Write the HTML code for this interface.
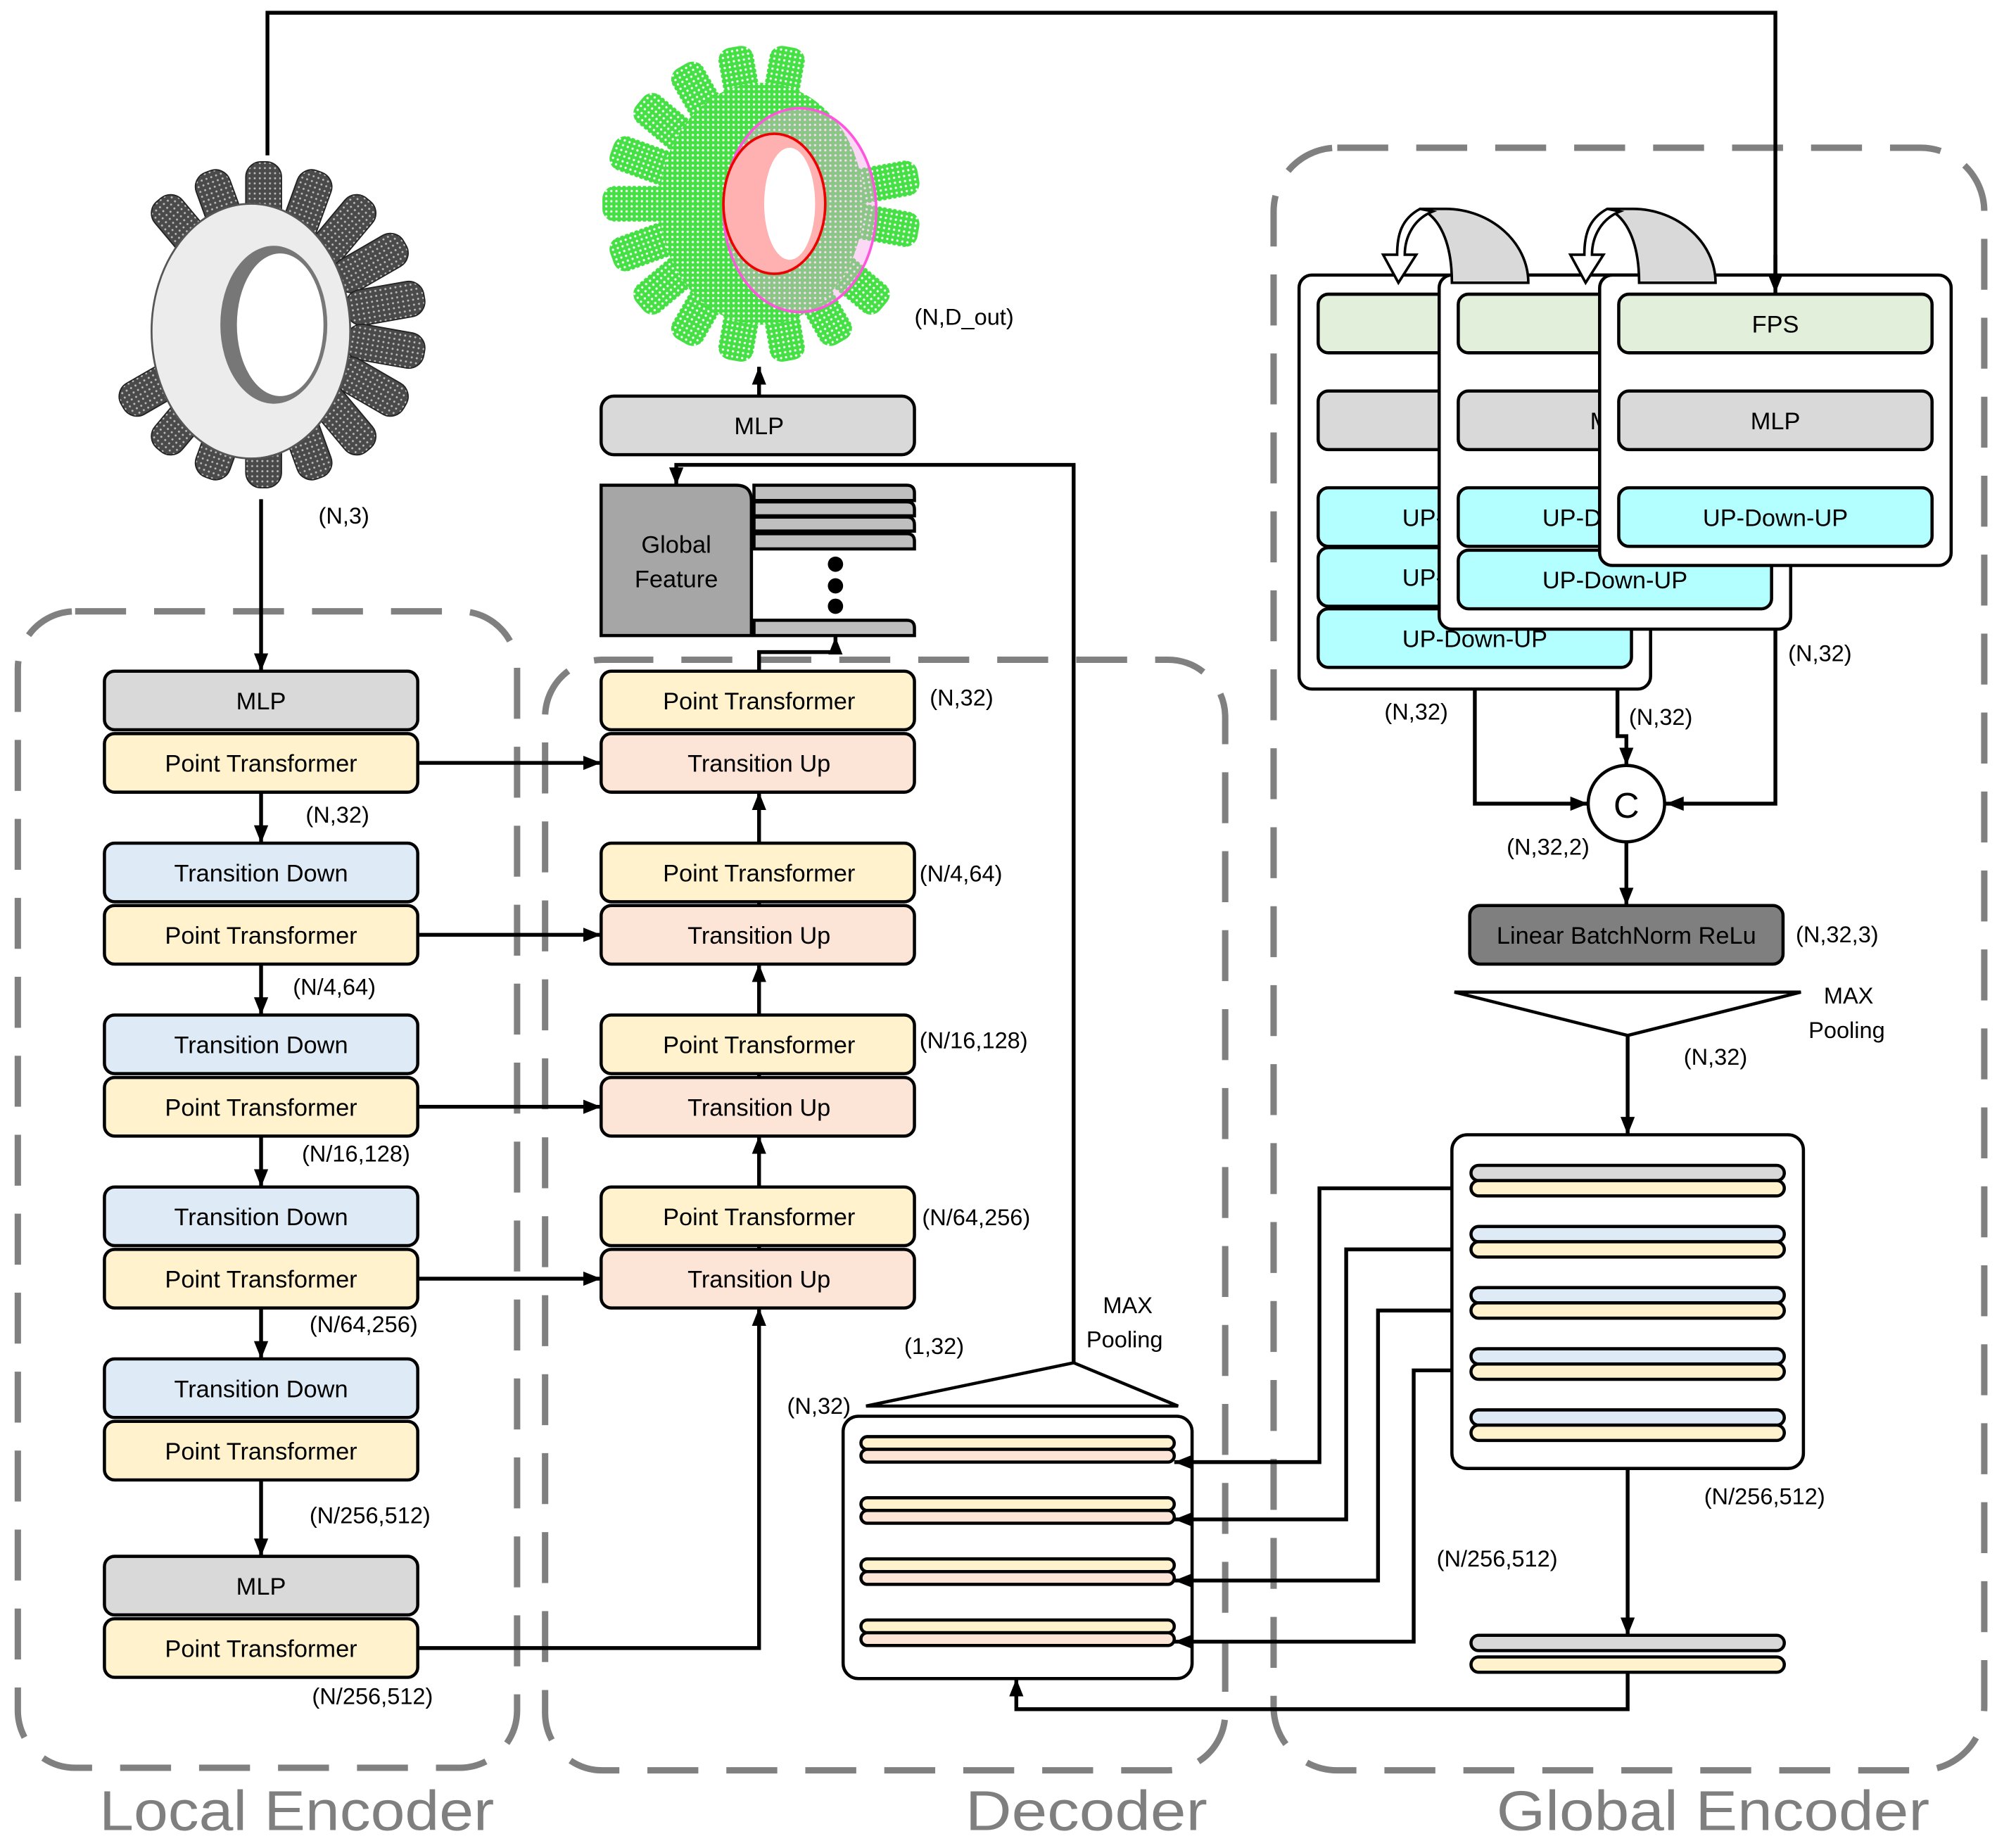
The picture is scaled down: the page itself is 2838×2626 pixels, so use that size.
<!DOCTYPE html>
<html><head><meta charset="utf-8">
<style>
html,body{margin:0;padding:0;background:#fff;}
svg{display:block;}
text{font-family:"Liberation Sans",sans-serif;}
</style></head>
<body>
<svg width="2838" height="2626" viewBox="0 0 1568 1451" preserveAspectRatio="none" xmlns="http://www.w3.org/2000/svg">
<defs>
<marker id="a" viewBox="0 0 10 10" refX="10" refY="5" markerWidth="14" markerHeight="14" orient="auto" markerUnits="userSpaceOnUse"><path d="M0,1 L10,5 L0,9 z" fill="#000"/></marker>
<pattern id="dots" width="4" height="4" patternUnits="userSpaceOnUse"><rect width="4" height="4" fill="#4a4a4a"/><circle cx="1" cy="1" r="0.8" fill="#bbb"/></pattern>
<pattern id="gdots" width="4" height="4" patternUnits="userSpaceOnUse"><rect width="4" height="4" fill="#44e044"/><circle cx="2" cy="2" r="0.9" fill="#fff"/></pattern>
</defs>

<g fill="none" stroke="#808080" stroke-width="5" stroke-dasharray="40 22">
<rect x="14" y="480" width="392" height="908" rx="45"/>
<rect x="428" y="518" width="534" height="872" rx="45"/>
<rect x="1000" y="116" width="558" height="1274" rx="50"/>
</g>
<g font-size="44" fill="#7f7f7f">
<text x="78" y="1437" textLength="310" lengthAdjust="spacingAndGlyphs">Local Encoder</text>
<text x="758" y="1437" textLength="190" lengthAdjust="spacingAndGlyphs">Decoder</text>
<text x="1175" y="1437" textLength="340" lengthAdjust="spacingAndGlyphs">Global Encoder</text>
</g>

<polyline points="210,122 210,10 1394,10 1394,230" fill="none" stroke="#000" stroke-width="3" marker-end="url(#a)"/>

<!-- gear point cloud -->
<g transform="translate(207,255)">
<g fill="url(#dots)" stroke="#222" stroke-width="1">
<rect x="-14" y="-128" width="28" height="62" rx="12" transform="rotate(0)"/>
<rect x="-14" y="-128" width="28" height="62" rx="12" transform="rotate(20)"/>
<rect x="-14" y="-128" width="28" height="62" rx="12" transform="rotate(40)"/>
<rect x="-14" y="-128" width="28" height="62" rx="12" transform="rotate(60)"/>
<rect x="-14" y="-128" width="28" height="62" rx="12" transform="rotate(80)"/>
<rect x="-14" y="-128" width="28" height="62" rx="12" transform="rotate(100)"/>
<rect x="-14" y="-128" width="28" height="62" rx="12" transform="rotate(120)"/>
<rect x="-14" y="-128" width="28" height="62" rx="12" transform="rotate(140)"/>
<rect x="-14" y="-128" width="28" height="62" rx="12" transform="rotate(160)"/>
<rect x="-14" y="-128" width="28" height="62" rx="12" transform="rotate(180)"/>
<rect x="-14" y="-128" width="28" height="62" rx="12" transform="rotate(200)"/>
<rect x="-14" y="-128" width="28" height="62" rx="12" transform="rotate(220)"/>
<rect x="-14" y="-128" width="28" height="62" rx="12" transform="rotate(240)"/>
<rect x="-14" y="-128" width="28" height="62" rx="12" transform="rotate(320)"/>
<rect x="-14" y="-128" width="28" height="62" rx="12" transform="rotate(340)"/>
</g>
<ellipse cx="-10" cy="5" rx="78" ry="100" fill="#ececec" stroke="#555" stroke-width="1.5"/>
<ellipse cx="8" cy="0" rx="42" ry="62" fill="#777"/>
<ellipse cx="13" cy="0" rx="34" ry="56" fill="#fff"/>
</g>

<!-- output point cloud -->
<g transform="translate(598,160)">
<g fill="url(#gdots)">
<rect x="-14" y="-125" width="28" height="70" rx="10" transform="rotate(-30)"/>
<rect x="-14" y="-125" width="28" height="70" rx="10" transform="rotate(-50)"/>
<rect x="-14" y="-125" width="28" height="70" rx="10" transform="rotate(-70)"/>
<rect x="-14" y="-125" width="28" height="70" rx="10" transform="rotate(-90)"/>
<rect x="-14" y="-125" width="28" height="70" rx="10" transform="rotate(-110)"/>
<rect x="-14" y="-125" width="28" height="70" rx="10" transform="rotate(-130)"/>
<rect x="-14" y="-125" width="28" height="70" rx="10" transform="rotate(-150)"/>
<rect x="-14" y="-125" width="28" height="70" rx="10" transform="rotate(-170)"/>
<rect x="-14" y="-125" width="28" height="70" rx="10" transform="rotate(170)"/>
<rect x="-14" y="-125" width="28" height="70" rx="10" transform="rotate(150)"/>
<rect x="-14" y="-125" width="28" height="70" rx="10" transform="rotate(130)"/>
<rect x="-14" y="-125" width="28" height="70" rx="10" transform="rotate(-10)"/>
<rect x="-14" y="-125" width="28" height="70" rx="10" transform="rotate(10)"/>
<rect x="-14" y="-125" width="28" height="70" rx="10" transform="rotate(80)"/>
<rect x="-14" y="-125" width="28" height="70" rx="10" transform="rotate(100)"/>
</g>
<ellipse cx="0" cy="0" rx="80" ry="95" fill="url(#gdots)"/>
<ellipse cx="30" cy="5" rx="60" ry="80" fill="#f4a0e8" fill-opacity="0.4" stroke="#ff55dd" stroke-width="2"/>
<ellipse cx="10" cy="0" rx="40" ry="55" fill="#ffb0b0" stroke="#e00" stroke-width="2"/>
<ellipse cx="22" cy="0" rx="20" ry="44" fill="#fff"/>
</g>
<text x="718" y="255" font-size="18">(N,D_out)</text>

<g stroke="#000" stroke-width="2.5">
<rect x="82" y="527" width="246" height="46" rx="8" fill="#d9d9d9"/>
<rect x="82" y="576" width="246" height="46" rx="8" fill="#fff2cc"/>
<rect x="82" y="662" width="246" height="46" rx="8" fill="#deebf7"/>
<rect x="82" y="711" width="246" height="46" rx="8" fill="#fff2cc"/>
<rect x="82" y="797" width="246" height="46" rx="8" fill="#deebf7"/>
<rect x="82" y="846" width="246" height="46" rx="8" fill="#fff2cc"/>
<rect x="82" y="932" width="246" height="46" rx="8" fill="#deebf7"/>
<rect x="82" y="981" width="246" height="46" rx="8" fill="#fff2cc"/>
<rect x="82" y="1067" width="246" height="46" rx="8" fill="#deebf7"/>
<rect x="82" y="1116" width="246" height="46" rx="8" fill="#fff2cc"/>
<rect x="82" y="1222" width="246" height="46" rx="8" fill="#d9d9d9"/>
<rect x="82" y="1271" width="246" height="46" rx="8" fill="#fff2cc"/>
</g>
<g font-size="19" text-anchor="middle">
<text x="205" y="557">MLP</text>
<text x="205" y="606">Point Transformer</text>
<text x="205" y="692">Transition Down</text>
<text x="205" y="741">Point Transformer</text>
<text x="205" y="827">Transition Down</text>
<text x="205" y="876">Point Transformer</text>
<text x="205" y="962">Transition Down</text>
<text x="205" y="1011">Point Transformer</text>
<text x="205" y="1097">Transition Down</text>
<text x="205" y="1146">Point Transformer</text>
<text x="205" y="1252">MLP</text>
<text x="205" y="1301">Point Transformer</text>
</g>
<g stroke="#000" stroke-width="3" fill="none" marker-end="url(#a)">
<line x1="205" y1="392" x2="205" y2="527"/>
<line x1="205" y1="622" x2="205" y2="662"/>
<line x1="205" y1="757" x2="205" y2="797"/>
<line x1="205" y1="892" x2="205" y2="932"/>
<line x1="205" y1="1027" x2="205" y2="1067"/>
<line x1="205" y1="1162" x2="205" y2="1222"/>
<line x1="328" y1="599" x2="472" y2="599"/>
<line x1="328" y1="734" x2="472" y2="734"/>
<line x1="328" y1="869" x2="472" y2="869"/>
<line x1="328" y1="1004" x2="472" y2="1004"/>
<polyline points="328,1294 596,1294 596,1027"/>
<line x1="596" y1="981" x2="596" y2="892"/>
<line x1="596" y1="846" x2="596" y2="757"/>
<line x1="596" y1="711" x2="596" y2="622"/>
<polyline points="596,527 596,512 656,512 656,500"/>
<line x1="596" y1="311" x2="596" y2="288"/>
<polyline points="843,1070 843,365 531,365 531,381"/>
</g>
<g font-size="18">
<text x="250" y="411">(N,3)</text>
<text x="240" y="646">(N,32)</text>
<text x="230" y="781">(N/4,64)</text>
<text x="237" y="912">(N/16,128)</text>
<text x="243" y="1046">(N/64,256)</text>
<text x="243" y="1196">(N/256,512)</text>
<text x="245" y="1338">(N/256,512)</text>
</g>

<g stroke="#000" stroke-width="2.5">
<rect x="472" y="527" width="246" height="46" rx="8" fill="#fff2cc"/>
<rect x="472" y="576" width="246" height="46" rx="8" fill="#fce4d6"/>
<rect x="472" y="662" width="246" height="46" rx="8" fill="#fff2cc"/>
<rect x="472" y="711" width="246" height="46" rx="8" fill="#fce4d6"/>
<rect x="472" y="797" width="246" height="46" rx="8" fill="#fff2cc"/>
<rect x="472" y="846" width="246" height="46" rx="8" fill="#fce4d6"/>
<rect x="472" y="932" width="246" height="46" rx="8" fill="#fff2cc"/>
<rect x="472" y="981" width="246" height="46" rx="8" fill="#fce4d6"/>
<rect x="472" y="311" width="246" height="46" rx="10" fill="#d9d9d9"/>
<path d="M472,381 H578 Q590,381 590,393 V499 H472 Z" fill="#a6a6a6"/>
<path d="M592,381 H712 Q718,381 718,387 V393 H592 Z" fill="#bfbfbf"/>
<path d="M592,394 H712 Q718,394 718,400 V405 H592 Z" fill="#bfbfbf"/>
<path d="M592,406 H712 Q718,406 718,412 V417 H592 Z" fill="#bfbfbf"/>
<path d="M592,419 H712 Q718,419 718,425 V431 H592 Z" fill="#bfbfbf"/>
<path d="M592,487 H712 Q718,487 718,493 V499 H592 Z" fill="#bfbfbf"/>
</g>
<circle cx="656" cy="443" r="6"/><circle cx="656" cy="460" r="6"/><circle cx="656" cy="476" r="6"/>
<g font-size="19" text-anchor="middle">
<text x="596" y="557">Point Transformer</text>
<text x="596" y="606">Transition Up</text>
<text x="596" y="692">Point Transformer</text>
<text x="596" y="741">Transition Up</text>
<text x="596" y="827">Point Transformer</text>
<text x="596" y="876">Transition Up</text>
<text x="596" y="962">Point Transformer</text>
<text x="596" y="1011">Transition Up</text>
<text x="596" y="341">MLP</text>
<text x="531" y="434">Global</text>
<text x="531" y="461">Feature</text>
</g>
<g font-size="18">
<text x="730" y="554">(N,32)</text>
<text x="722" y="692">(N/4,64)</text>
<text x="722" y="823">(N/16,128)</text>
<text x="724" y="962">(N/64,256)</text>
<text x="866" y="1031">MAX</text>
<text x="853" y="1058">Pooling</text>
<text x="710" y="1063">(1,32)</text>
<text x="618" y="1110">(N,32)</text>
</g>
<polygon points="843,1070 680,1104 925,1104" fill="none" stroke="#000" stroke-width="2.5"/>

<rect x="662" y="1112" width="274" height="206" rx="12" fill="#fff" stroke="#000" stroke-width="2.5"/>
<g stroke="#000" stroke-width="2.5">
<rect x="676" y="1128" width="246" height="10" rx="5" fill="#fff2cc"/><rect x="676" y="1138" width="246" height="10" rx="5" fill="#fce4d6"/>
<rect x="676" y="1176" width="246" height="10" rx="5" fill="#fff2cc"/><rect x="676" y="1186" width="246" height="10" rx="5" fill="#fce4d6"/>
<rect x="676" y="1224" width="246" height="10" rx="5" fill="#fff2cc"/><rect x="676" y="1234" width="246" height="10" rx="5" fill="#fce4d6"/>
<rect x="676" y="1272" width="246" height="10" rx="5" fill="#fff2cc"/><rect x="676" y="1282" width="246" height="10" rx="5" fill="#fce4d6"/>
</g>

<rect x="1140" y="891" width="276" height="262" rx="12" fill="#fff" stroke="#000" stroke-width="2.5"/>
<g stroke="#000" stroke-width="2.5">
<rect x="1155" y="915" width="246" height="12" rx="6" fill="#d9d9d9"/><rect x="1155" y="927" width="246" height="12" rx="6" fill="#fff2cc"/>
<rect x="1155" y="963" width="246" height="12" rx="6" fill="#deebf7"/><rect x="1155" y="975" width="246" height="12" rx="6" fill="#fff2cc"/>
<rect x="1155" y="1011" width="246" height="12" rx="6" fill="#deebf7"/><rect x="1155" y="1023" width="246" height="12" rx="6" fill="#fff2cc"/>
<rect x="1155" y="1059" width="246" height="12" rx="6" fill="#deebf7"/><rect x="1155" y="1071" width="246" height="12" rx="6" fill="#fff2cc"/>
<rect x="1155" y="1107" width="246" height="12" rx="6" fill="#deebf7"/><rect x="1155" y="1119" width="246" height="12" rx="6" fill="#fff2cc"/>
<rect x="1155" y="1284" width="246" height="12" rx="6" fill="#d9d9d9"/><rect x="1155" y="1301" width="246" height="12" rx="6" fill="#fff2cc"/>
</g>
<g stroke="#000" stroke-width="3" fill="none" marker-end="url(#a)">
<polyline points="1140,933 1036,933 1036,1148 922,1148"/>
<polyline points="1140,981 1057,981 1057,1193 922,1193"/>
<polyline points="1140,1029 1082,1029 1082,1241 922,1241"/>
<polyline points="1140,1076 1110,1076 1110,1289 922,1289"/>
<line x1="1278" y1="1153" x2="1278" y2="1284"/>
<polyline points="1278,1313 1278,1342 798,1342 798,1318"/>
<line x1="1278" y1="813" x2="1278" y2="891"/>
<line x1="1277" y1="661" x2="1277" y2="711"/>
<polyline points="1158,541 1158,631 1247,631"/>
<polyline points="1270,478 1270,578 1277,578 1277,601"/>
<polyline points="1394,429 1394,631 1308,631"/>
</g>
<g font-size="18">
<text x="1338" y="1181">(N/256,512)</text>
<text x="1128" y="1230">(N/256,512)</text>
<text x="1322" y="836">(N,32)</text>
<text x="1432" y="788">MAX</text>
<text x="1420" y="815">Pooling</text>
<text x="1410" y="740">(N,32,3)</text>
<text x="1183" y="671">(N,32,2)</text>
<text x="1087" y="565">(N,32)</text>
<text x="1279" y="569">(N,32)</text>
<text x="1404" y="519">(N,32)</text>
</g>
<polygon points="1142,779 1414,779 1278,813" fill="none" stroke="#000" stroke-width="2.5"/>
<rect x="1154" y="711" width="246" height="46" rx="8" fill="#7f7f7f" stroke="#000" stroke-width="2.5"/>
<text x="1277" y="741" font-size="19" text-anchor="middle">Linear BatchNorm ReLu</text>
<circle cx="1277" cy="631" r="30" fill="#fff" stroke="#000" stroke-width="2.5"/>
<text x="1277" y="642" font-size="28" text-anchor="middle">C</text>

<g stroke="#000" stroke-width="2.5">
<rect x="1020" y="216" width="276" height="325" rx="10" fill="#fff"/>
<rect x="1035" y="231" width="246" height="46" rx="8" fill="#e2efda"/>
<rect x="1035" y="307" width="246" height="46" rx="8" fill="#d9d9d9"/>
<rect x="1035" y="383" width="246" height="46" rx="8" fill="#b3ffff"/>
<rect x="1035" y="430" width="246" height="46" rx="8" fill="#b3ffff"/>
<rect x="1035" y="478" width="246" height="46" rx="8" fill="#b3ffff"/>
</g>
<g font-size="19" text-anchor="middle"><text x="1158" y="413">UP-Down-UP</text><text x="1158" y="460">UP-Down-UP</text><text x="1158" y="508">UP-Down-UP</text></g>
<g stroke="#000" stroke-width="2.5">
<rect x="1130" y="216" width="276" height="278" rx="10" fill="#fff"/>
<rect x="1145" y="231" width="246" height="46" rx="8" fill="#e2efda"/>
<rect x="1145" y="307" width="246" height="46" rx="8" fill="#d9d9d9"/>
<rect x="1145" y="383" width="246" height="46" rx="8" fill="#b3ffff"/>
<rect x="1145" y="432" width="246" height="46" rx="8" fill="#b3ffff"/>
</g>
<g font-size="19" text-anchor="middle"><text x="1268" y="337">MLP</text><text x="1268" y="413">UP-Down-UP</text><text x="1268" y="462">UP-Down-UP</text></g>
<g stroke="#000" stroke-width="2.5">
<rect x="1256" y="216" width="276" height="228" rx="10" fill="#fff"/>
<rect x="1271" y="231" width="246" height="46" rx="8" fill="#e2efda"/>
<rect x="1271" y="307" width="246" height="46" rx="8" fill="#d9d9d9"/>
<rect x="1271" y="383" width="246" height="46" rx="8" fill="#b3ffff"/>
</g>
<g font-size="19" text-anchor="middle"><text x="1394" y="261">FPS</text><text x="1394" y="337">MLP</text><text x="1394" y="413">UP-Down-UP</text></g>
<line x1="1394" y1="200" x2="1394" y2="230" stroke="#000" stroke-width="3" marker-end="url(#a)"/>

<g stroke="#000" stroke-width="2" fill="#d9d9d9">
<path d="M1140,222 C1140,190 1130,170 1115,164 L1135,164 C1170,164 1200,190 1200,222 Z"/>
<path d="M1250,222 C1250,190 1240,170 1225,164 L1245,164 C1280,164 1310,190 1310,222 Z" transform="translate(37,0)"/>
</g>
<g stroke="#000" stroke-width="2" fill="#fff">
<path d="M1115,164 C1100,172 1097,185 1097,200 L1086,200 L1098,222 L1112,200 L1103,200 C1103,186 1110,172 1125,166 Z"/>
<path d="M1262,164 C1247,172 1244,185 1244,200 L1233,200 L1245,222 L1259,200 L1250,200 C1250,186 1257,172 1272,166 Z"/>
</g>
</svg>
</body></html>
